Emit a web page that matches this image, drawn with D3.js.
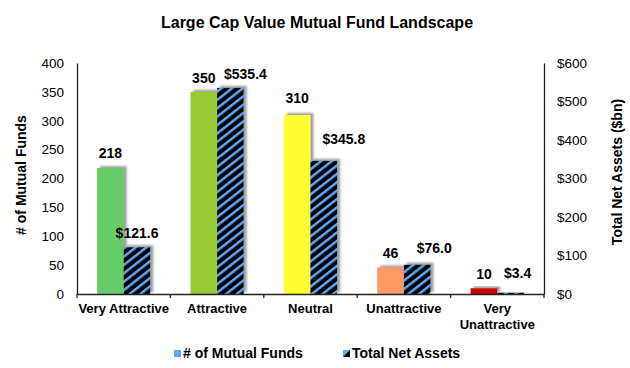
<!DOCTYPE html>
<html><head><meta charset="utf-8">
<script src="https://cdn.jsdelivr.net/npm/d3@7"></script>
<style>body{margin:0;background:#fff}svg{display:block;font-family:"Liberation Sans",Arial,sans-serif}</style>
</head><body><svg id="c" width="630" height="368"></svg>
<script>
const categories = ["Very Attractive","Attractive","Neutral","Unattractive","Very Unattractive"];
const fundCounts = [218, 350, 310, 46, 10];
const netAssets = [121.6, 535.4, 345.8, 76.0, 3.4];
const barColors = ["#66CC66","#99CC33","#FFFF33","#FF9966","#CC0000"];
const leftTicks = [0,50,100,150,200,250,300,350,400];
const rightTicks = [0,100,200,300,400,500,600];
const seriesNames = ["# of Mutual Funds","Total Net Assets"];

// label nudges (layout only)
const countLabelGap = [10,9,12,9,9];
const assetLabelGap = [9,9,17,12,15];
const assetLabelDx = [0,15,20,17,7];

const svg = d3.select("#c");
const defs = svg.append("defs");
const pat = defs.append("pattern").attr("id","hatch").attr("patternUnits","userSpaceOnUse")
  .attr("width",6.6).attr("height",6.6).attr("patternTransform","rotate(52)");
pat.append("rect").attr("width",6.6).attr("height",6.6).attr("fill","#000");
pat.append("rect").attr("width",2.5).attr("height",6.6).attr("fill","#5FA8F5");
const f = defs.append("filter").attr("id","shadow").attr("x","-30%").attr("y","-30%").attr("width","160%").attr("height","160%");
f.append("feDropShadow").attr("dx",3).attr("dy",-2).attr("stdDeviation",1.2).attr("flood-color","#808080").attr("flood-opacity",0.75);

const L = 77, R = 544, T = 63, B = 294;
const x0 = d3.scaleBand().domain(categories).range([L,R]);
const gw = x0.bandwidth()*0.57;
const x1 = d3.scaleBand().domain(seriesNames).range([0,gw]);
const yL = d3.scaleLinear().domain([0,400]).range([B,T]);
const yR = d3.scaleLinear().domain([0,600]).range([B,T]);
const off = (x0.bandwidth()-gw)/2;

// title
svg.append("text").attr("x",317).attr("y",28).attr("text-anchor","middle")
  .attr("font-size",16).attr("font-weight","bold").text("Large Cap Value Mutual Fund Landscape");

// bars
const g = svg.append("g");
categories.forEach((c,i)=>{
  const xa = x0(c)+off+x1(seriesNames[0]);
  const xb = x0(c)+off+x1(seriesNames[1]);
  g.append("rect").attr("x",xa).attr("y",yL(fundCounts[i])).attr("width",x1.bandwidth())
    .attr("height",B-yL(fundCounts[i])).attr("fill",barColors[i]).attr("filter","url(#shadow)");
  g.append("rect").attr("x",xb).attr("y",yR(netAssets[i])).attr("width",x1.bandwidth())
    .attr("height",B-yR(netAssets[i])).attr("fill","url(#hatch)").attr("filter","url(#shadow)");
  svg.append("text").attr("x",xa+x1.bandwidth()/2).attr("y",yL(fundCounts[i])-countLabelGap[i])
    .attr("text-anchor","middle").attr("font-size",14).attr("font-weight","bold").text(d3.format("d")(fundCounts[i]));
  svg.append("text").attr("x",xb+x1.bandwidth()/2+assetLabelDx[i]).attr("y",yR(netAssets[i])-assetLabelGap[i])
    .attr("text-anchor","middle").attr("font-size",14).attr("font-weight","bold").text("$"+d3.format(".1f")(netAssets[i]));
});

// axes
const axL = svg.append("g").attr("transform",`translate(${L},0)`)
  .call(d3.axisLeft(yL).tickValues(leftTicks).tickSize(0).tickPadding(13));
const axR = svg.append("g").attr("transform",`translate(${R},0)`)
  .call(d3.axisRight(yR).tickValues(rightTicks).tickSize(0).tickPadding(13).tickFormat(d=>"$"+d));
[axL,axR].forEach(a=>{
  a.select(".domain").attr("stroke","#222").attr("stroke-width",1.3);
  a.selectAll("text").attr("font-size",13.5).attr("fill","#000").attr("font-family","Liberation Sans, Arial, sans-serif");
});
const axX = svg.append("g").attr("transform",`translate(0,${B})`)
  .call(d3.axisBottom(x0).tickSize(0).tickFormat(""));
axX.select(".domain").attr("stroke","#222").attr("stroke-width",1.3);
const bounds = categories.map(c=>x0(c)).concat([R]);
svg.append("g").selectAll("line").data(bounds).join("line")
  .attr("x1",d=>d).attr("x2",d=>d).attr("y1",B).attr("y2",B+4).attr("stroke","#222").attr("stroke-width",1.3);

// category labels
categories.forEach((c,i)=>{
  const cx = x0(c)+x0.bandwidth()/2;
  const t = svg.append("text").attr("x",cx).attr("y",313).attr("text-anchor","middle")
    .attr("font-size",13).attr("font-weight","bold");
  if(c==="Very Unattractive"){
    t.append("tspan").attr("x",cx).attr("dy",0).text("Very");
    t.append("tspan").attr("x",cx).attr("dy",16).text("Unattractive");
  } else t.text(c);
});

// axis titles
svg.append("text").attr("transform","translate(26,175) rotate(-90)").attr("text-anchor","middle")
  .attr("font-size",14).attr("font-weight","bold").text("# of Mutual Funds");
svg.append("text").attr("transform","translate(622,172) rotate(-90)").attr("text-anchor","middle")
  .attr("font-size",14).attr("font-weight","bold").text("Total Net Assets ($bn)");

// legend
const lg = svg.append("g");
lg.append("rect").attr("x",174).attr("y",350).attr("width",7).attr("height",7).attr("fill","#5FA8F5");
lg.append("text").attr("x",183).attr("y",357.5).attr("font-size",14).attr("font-weight","bold").text(seriesNames[0]);
lg.append("rect").attr("x",343).attr("y",350).attr("width",7).attr("height",7).attr("fill","#5FA8F5");
lg.append("path").attr("d","M343,357 L350,350 L350,357 Z").attr("fill","#000");
lg.append("text").attr("x",352).attr("y",357.5).attr("font-size",14).attr("font-weight","bold").text(seriesNames[1]);
</script></body></html>
